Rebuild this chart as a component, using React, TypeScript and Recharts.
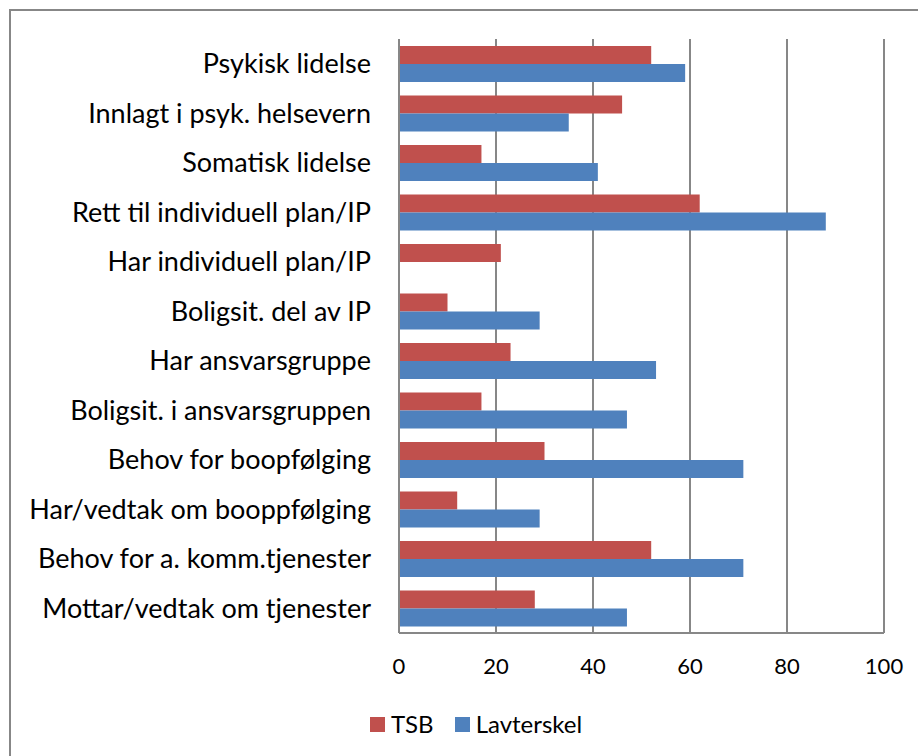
import { BarChart, Bar, XAxis, YAxis, CartesianGrid } from 'recharts'

const categories = [
  'Psykisk lidelse',
  'Innlagt i psyk. helsevern',
  'Somatisk lidelse',
  'Rett til individuell plan/IP',
  'Har individuell plan/IP',
  'Boligsit. del av IP',
  'Har ansvarsgruppe',
  'Boligsit. i ansvarsgruppen',
  'Behov for boopfølging',
  'Har/vedtak om booppfølging',
  'Behov for a. komm.tjenester',
  'Mottar/vedtak om tjenester',
]
const tsb = [52, 46, 17, 62, 21, 10, 23, 17, 30, 12, 52, 28]
const lavterskel = [59, 35, 41, 88, 0, 29, 53, 47, 71, 29, 71, 47]
const xTicks = [0, 20, 40, 60, 80, 100]
const seriesNames = ['TSB', 'Lavterskel']
const seriesColors = ['#C0504D', '#4F81BD']

const data = categories.map((name, i) => ({ name, tsb: tsb[i], lavterskel: lavterskel[i] }))

const font = 'Lato, "Open Sans", sans-serif'

export default function App() {
  return (
    <div style={{ position: 'absolute', left: 0, top: 0, width: 918, height: 756, overflow: 'hidden', background: '#fff', fontFamily: font }}>
      <div style={{ position: 'absolute', left: 9, top: 9, width: 930, height: 770, border: '2px solid #878787' }} />
      <div style={{ position: 'absolute', left: 0, top: 0 }}>
        <BarChart
          width={918}
          height={756}
          data={data}
          layout="vertical"
          margin={{ top: 39, right: 34, left: 0, bottom: 63 }}
          barSize={18}
          barGap={0}
        >
          <CartesianGrid horizontal={false} stroke="#878787" strokeWidth={2} />
          <XAxis
            type="number"
            domain={[0, 100]}
            ticks={xTicks}
            tickLine={false}
            axisLine={{ stroke: '#878787', strokeWidth: 2 }}
            tick={{ fontSize: 22, fill: '#000', fontFamily: font }}
            tickSize={6}
            tickMargin={19}
            height={60}
          />
          <YAxis
            type="category"
            dataKey="name"
            width={399}
            tickLine={false}
            axisLine={{ stroke: '#878787', strokeWidth: 2 }}
            tick={{ fontSize: 27, fill: '#000', fontFamily: font }}
            tickSize={6}
            tickMargin={22}
            interval={0}
          />
          <Bar dataKey="tsb" name={seriesNames[0]} fill={seriesColors[0]} isAnimationActive={false} />
          <Bar dataKey="lavterskel" name={seriesNames[1]} fill={seriesColors[1]} isAnimationActive={false} />
        </BarChart>
      </div>
      <div style={{ position: 'absolute', left: 370, top: 709, display: 'flex', alignItems: 'center', fontSize: 24, color: '#000', lineHeight: '30px' }}>
        {seriesNames.map((n, i) => (
          <div key={n} style={{ display: 'flex', alignItems: 'center', marginRight: 21 }}>
            <span style={{ display: 'inline-block', width: 15, height: 15, background: seriesColors[i], marginRight: 6 }} />
            <span>{n}</span>
          </div>
        ))}
      </div>
    </div>
  )
}
